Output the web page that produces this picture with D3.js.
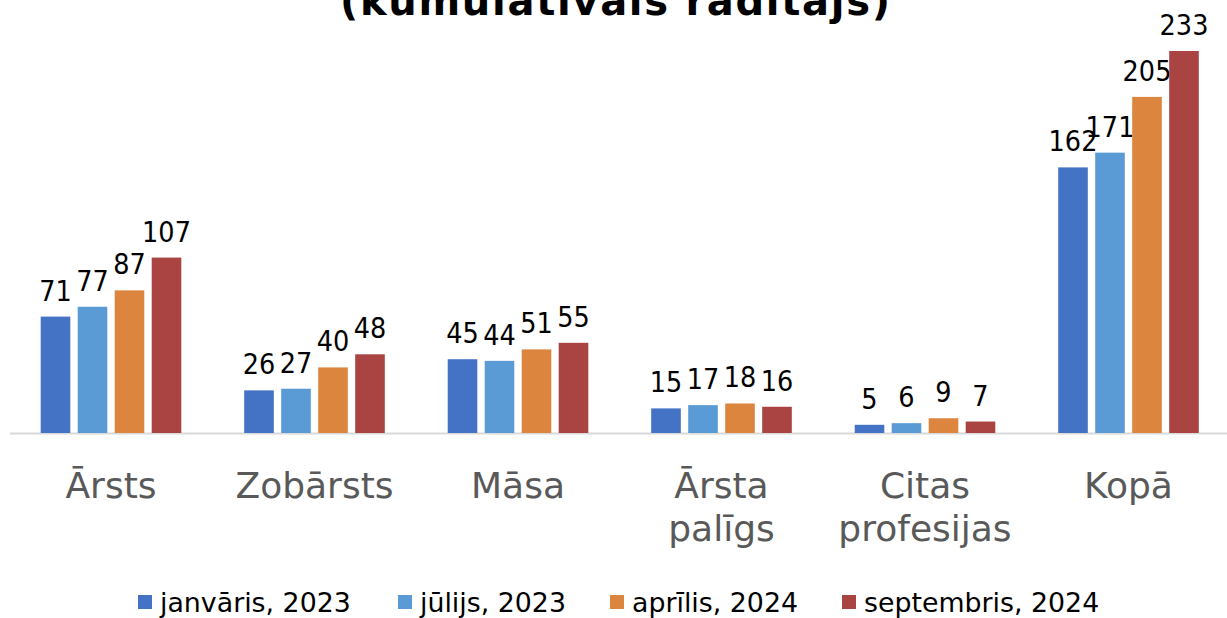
<!DOCTYPE html>
<html>
<head>
<meta charset="utf-8">
<script src="https://cdn.jsdelivr.net/npm/d3@7"></script>
<style>
  body { margin: 0; background: #fff; }
  text { font-family: "DejaVu Sans", Verdana, sans-serif; }
</style>
</head>
<body>
<div id="plot"></div>
<script>
var categories = [["Ārsts"], ["Zobārsts"], ["Māsa"], ["Ārsta", "palīgs"], ["Citas", "profesijas"], ["Kopā"]];
var seriesNames = ["janvāris, 2023", "jūlijs, 2023", "aprīlis, 2024", "septembris, 2024"];
var seriesColors = ["#4472C4", "#5B9BD5", "#DC853F", "#A94442"];
var janvaris2023 = [71, 26, 45, 15, 5, 162];
var julijs2023 = [77, 27, 44, 17, 6, 171];
var aprilis2024 = [87, 40, 51, 18, 9, 205];
var septembris2024 = [107, 48, 55, 16, 7, 233];
var seriesValues = [janvaris2023, julijs2023, aprilis2024, septembris2024];

plotBarChart();

function plotBarChart() {
    var width = 1227;
    var height = 618;
    var baseY = 433;

    var svg = d3.select("#plot").append("svg").attr("width", width).attr("height", height);

    // title (first line is off the top of the picture)
    svg.append("text")
        .attr("x", 615)
        .attr("y", 15)
        .attr("text-anchor", "middle")
        .attr("font-size", 40)
        .attr("font-weight", "bold")
        .attr("textLength", 550)
        .attr("fill", "#000")
        .text("(kumulatīvais rādītājs)");

    var catKeys = categories.map(function(d) { return d.join(" "); });

    var x0 = d3.scaleBand()
        .domain(catKeys)
        .range([9.25, 1230.25])
        .padding(0);

    var x1 = d3.scaleBand()
        .domain(seriesNames)
        .range([0, 148])
        .paddingInner(0.2)
        .paddingOuter(0.1);

    var y = d3.scaleLinear()
        .domain([0, 233])
        .range([baseY, 51]);

    var groupOffset = (x0.bandwidth() - 148) / 2;

    // baseline axis
    svg.append("line")
        .attr("x1", 10).attr("x2", 1227)
        .attr("y1", baseY + 0.5).attr("y2", baseY + 0.5)
        .attr("stroke", "#d9d9d9")
        .attr("stroke-width", 2);

    var groups = svg.append("g").selectAll("g")
        .data(catKeys)
        .enter()
        .append("g")
        .attr("transform", function(d) { return "translate(" + (x0(d) + groupOffset) + ",0)"; });

    groups.each(function(cat, ci) {
        var g = d3.select(this);
        seriesNames.forEach(function(s, si) {
            var v = seriesValues[si][ci];
            g.append("rect")
                .attr("x", x1(s))
                .attr("y", y(v))
                .attr("width", x1.bandwidth())
                .attr("height", baseY - y(v))
                .attr("fill", seriesColors[si]);
            g.append("text")
                .attr("transform", "translate(" + (x1(s) + x1.bandwidth() / 2) + "," + (y(v) - 16) + ") scale(0.93,1)")
                .attr("text-anchor", "middle")
                .attr("font-size", 27.5)
                .attr("fill", "#000")
                .text(v);
        });
    });

    // category labels
    categories.forEach(function(lines, i) {
        var cx = x0(catKeys[i]) + x0.bandwidth() / 2;
        var t = svg.append("text")
            .attr("x", cx)
            .attr("y", 498)
            .attr("text-anchor", "middle")
            .attr("font-size", 36)
            .attr("fill", "#595959");
        lines.forEach(function(line, li) {
            t.append("tspan")
                .attr("x", cx)
                .attr("dy", li === 0 ? 0 : 43)
                .text(line);
        });
    });

    // legend
    var legendX = [138, 398, 610, 842];
    var legend = svg.append("g");
    seriesNames.forEach(function(s, i) {
        legend.append("rect")
            .attr("x", legendX[i])
            .attr("y", 595)
            .attr("width", 14)
            .attr("height", 14)
            .attr("fill", seriesColors[i]);
        legend.append("text")
            .attr("x", legendX[i] + 22)
            .attr("y", 612)
            .attr("font-size", 26.8)
            .attr("fill", "#000")
            .text(s);
    });
}
</script>
</body>
</html>
